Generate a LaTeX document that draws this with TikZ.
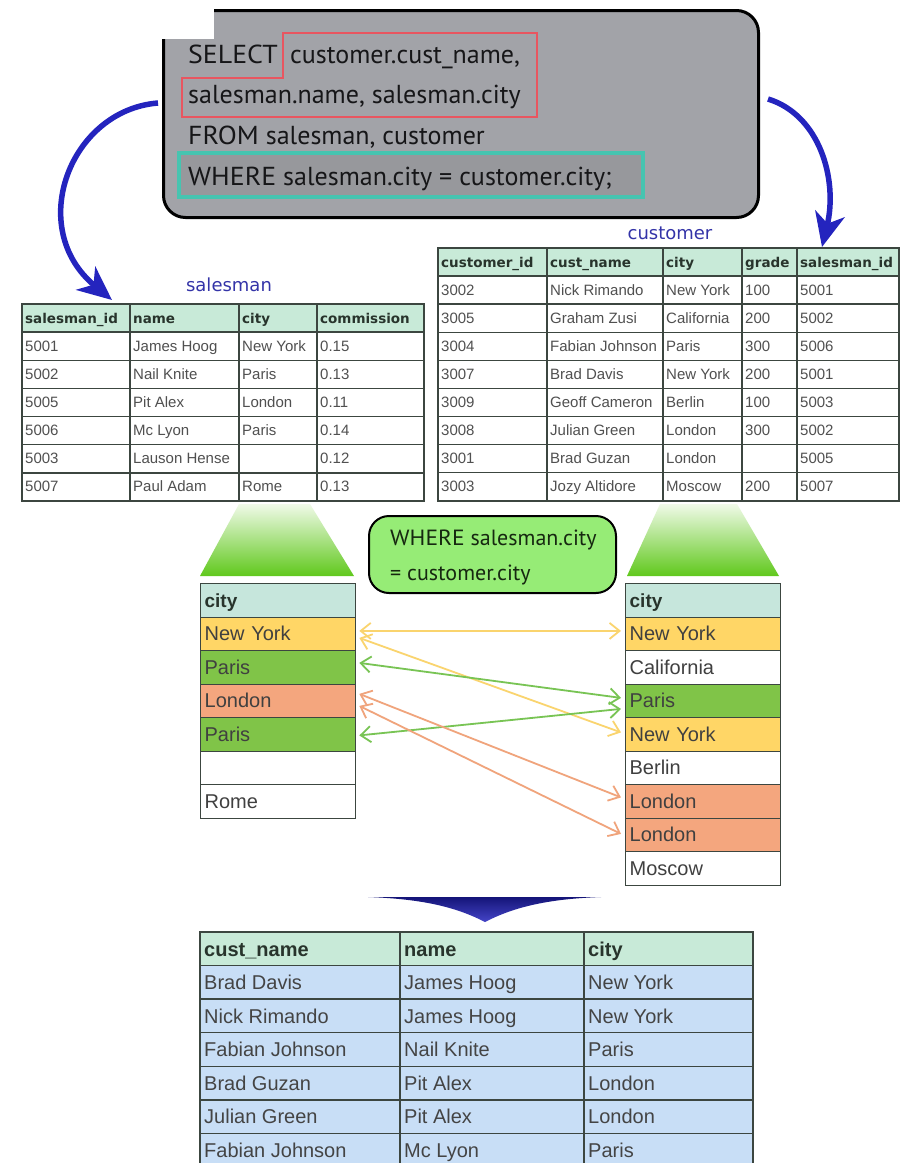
\documentclass[tikz,border=0pt]{standalone}
\usepackage{fontspec}
\setmainfont{Liberation Sans}
\newfontfamily\gillfont{PT Sans}
\newfontfamily\verdfont{DejaVu Sans}
\usetikzlibrary{arrows.meta}
\definecolor{sqlgray}{RGB}{162,163,168}
\definecolor{sqltxt}{RGB}{22,22,24}
\definecolor{redbox}{RGB}{232,86,96}
\definecolor{tealbox}{RGB}{70,196,176}
\definecolor{hdr}{RGB}{200,234,216}
\definecolor{cityhdr}{RGB}{198,230,220}
\definecolor{tline}{RGB}{60,70,64}
\definecolor{ttext}{RGB}{80,80,80}
\definecolor{htext}{RGB}{40,52,44}
\definecolor{lblue}{RGB}{52,52,168}
\definecolor{arrblue}{RGB}{36,36,190}
\definecolor{navy}{RGB}{20,20,120}
\definecolor{nyy}{RGB}{255,214,102}
\definecolor{pgreen}{RGB}{128,196,72}
\definecolor{lsal}{RGB}{244,166,126}
\definecolor{resblue}{RGB}{200,222,246}
\definecolor{wbox}{RGB}{150,236,118}
\definecolor{wtxt}{RGB}{22,40,16}
\definecolor{trapl}{RGB}{240,250,232}
\definecolor{trapg}{RGB}{96,200,28}
\definecolor{yarr}{RGB}{250,212,110}
\definecolor{garr}{RGB}{120,196,84}
\definecolor{sarr}{RGB}{240,164,124}
\newcommand{\kw}[1]{\scalebox{1.07}[1]{#1}}
\tikzset{
  sqltext/.style={anchor=base west, inner sep=0pt, text=sqltxt, font=\gillfont\fontsize{26}{30}\selectfont},
  wheretext/.style={anchor=base west, inner sep=0pt, text=wtxt, font=\gillfont\fontsize{22}{26}\selectfont},
  tabline/.style={draw=tline, line width=1.3pt},
  smhead/.style={anchor=base west, inner sep=0pt, text=htext, font=\verdfont\bfseries\fontsize{13.5}{15}\selectfont},
  smdata/.style={anchor=base west, inner sep=0pt, text=ttext, font=\fontsize{15}{17}\selectfont},
  reshead/.style={anchor=base west, inner sep=0pt, text=htext, font=\bfseries\fontsize{20}{22}\selectfont},
  resdata/.style={anchor=base west, inner sep=0pt, text=ttext!85!black, font=\fontsize{20}{22}\selectfont},
  tbllabel/.style={inner sep=0pt, text=lblue, font=\verdfont\fontsize{18}{20}\selectfont},
  citycell/.style={draw=tline, line width=1.3pt, anchor=north west, minimum width=155pt, minimum height=33.5pt,
     text width=147pt, inner xsep=4pt, inner ysep=0pt, align=left, text height=15pt, text depth=1pt,
     text=ttext!80!black, font=\fontsize{20}{22}\selectfont},
  cityhead/.style={citycell, fill=cityhdr, text=htext, font=\bfseries\fontsize{19}{22}\selectfont},
  blueflow/.style={draw=arrblue, line width=5.5pt, -{Stealth[length=34pt,width=30pt,inset=10pt]}},
  matcharrow/.style={line width=1.8pt, {Straight Barb[length=10pt,width=16pt]}-{Straight Barb[length=10pt,width=16pt]}},
}
\begin{document}
\begin{tikzpicture}[x=1pt,y=-1pt]
\useasboundingbox (0,0) rectangle (900,1163);
\clip (0,0) rectangle (900,1163);
\fill[white] (0,0) rectangle (900,1163);

% ---------- SQL box ----------
\node[draw=black, line width=3pt, fill=sqlgray, rounded corners=22pt, minimum width=595pt,
      minimum height=207pt, anchor=north west, inner sep=0pt] (sqlbox) at (162,9) {};
\fill[white] (150,-2) rectangle (214,39);
\draw[tealbox, line width=3.5pt, fill=sqlgray!93!black] (179,153) rectangle (643,197);
\draw[redbox, line width=2pt] (283,33) -- (537,33) -- (537,117) -- (182,117) -- (182,78) -- (283,78) -- cycle;
\node[sqltext] (sql1a) at (188,63) {\kw{SELECT}};
\node[sqltext] (sql1b) at (290,63) {customer.cust\_name,};
\node[sqltext] (sql2) at (188,103) {salesman.name, salesman.city};
\node[sqltext] (sql3) at (188,144) {\kw{FROM} salesman, customer};
\node[sqltext] (sql4) at (188,185) {\kw{WHERE} salesman.city = customer.city;};

% ---------- blue curved arrows ----------
\coordinate (la1) at (112,300);
\coordinate (ra1) at (822,247);
\draw[blueflow] ([xshift=-4pt,yshift=11pt]sqlbox.west) .. controls (70,110) and (25,228) .. (la1);
\draw[blueflow] ([xshift=8pt,yshift=15pt]sqlbox.east) .. controls (820,115) and (838,180) .. (ra1);

% ---------- table labels ----------
\node[tbllabel] (lblsm) at (229,285) {salesman};
\node[tbllabel] (lblcu) at (670,233) {customer};

% ---------- salesman table ----------
\fill[hdr] (22,304) rectangle (424,332);
\draw[tabline] (22,304) rectangle (424,501);
\foreach \x in {130,239,317} \draw[tabline] (\x,304) -- (\x,501);
\foreach \i in {0,...,5} \draw[tabline] (22,{332+28.17*\i}) -- (424,{332+28.17*\i});
\node[smhead] (smh1) at (25,323) {salesman\_id};
\node[smhead] (smh2) at (133,323) {name};
\node[smhead] (smh3) at (242,323) {city};
\node[smhead] (smh4) at (320,323) {commission};
\foreach \r/\a/\b/\c/\d in {0/5001/James Hoog/New York/0.15, 1/5002/Nail Knite/Paris/0.13,
   2/5005/Pit Alex/London/0.11, 3/5006/Mc Lyon/Paris/0.14, 4/5003/Lauson Hense//0.12, 5/5007/Paul Adam/Rome/0.13}{
  \pgfmathsetmacro\yb{351+28.17*\r}
  \node[smdata] (sm-\r-1) at (25,\yb) {\a};
  \node[smdata] (sm-\r-2) at (133,\yb) {\b};
  \node[smdata] (sm-\r-3) at (242,\yb) {\c};
  \node[smdata] (sm-\r-4) at (320,\yb) {\d};
}

% ---------- customer table ----------
\fill[hdr] (438,248) rectangle (899,276);
\draw[tabline] (438,248) rectangle (899,501);
\foreach \x in {547,663,742,797} \draw[tabline] (\x,248) -- (\x,501);
\foreach \i in {0,...,7} \draw[tabline] (438,{276+28.1*\i}) -- (899,{276+28.1*\i});
\node[smhead] (cuh1) at (441,267) {customer\_id};
\node[smhead] (cuh2) at (550,267) {cust\_name};
\node[smhead] (cuh3) at (666,267) {city};
\node[smhead] (cuh4) at (745,267) {grade};
\node[smhead] (cuh5) at (800,267) {salesman\_id};
\foreach \r/\a/\b/\c/\d/\e in {0/3002/Nick Rimando/New York/100/5001, 1/3005/Graham Zusi/California/200/5002,
   2/3004/Fabian Johnson/Paris/300/5006, 3/3007/Brad Davis/New York/200/5001,
   4/3009/Geoff Cameron/Berlin/100/5003, 5/3008/Julian Green/London/300/5002,
   6/3001/Brad Guzan/London//5005, 7/3003/Jozy Altidore/Moscow/200/5007}{
  \pgfmathsetmacro\yb{295+28.1*\r}
  \node[smdata] (cu-\r-1) at (441,\yb) {\a};
  \node[smdata] (cu-\r-2) at (550,\yb) {\b};
  \node[smdata] (cu-\r-3) at (666,\yb) {\c};
  \node[smdata] (cu-\r-4) at (745,\yb) {\d};
  \node[smdata] (cu-\r-5) at (800,\yb) {\e};
}

% ---------- green trapezoids ----------
\shade[top color=trapl, bottom color=trapg] (239,504) -- (310,504) -- (354,576) -- (200,576) -- cycle;
\shade[top color=trapl, bottom color=trapg] (660,504) -- (737,504) -- (779,576) -- (627,576) -- cycle;

% ---------- WHERE box ----------
\node[draw=black, line width=2pt, fill=wbox, rounded corners=20pt, minimum width=247pt,
      minimum height=77pt, anchor=north west, inner sep=0pt] (wherebox) at (368,515) {};
\node[wheretext] (wh1) at (390,545) {\kw{WHERE} salesman.city};
\node[wheretext] (wh2) at (390,580) {= customer.city};

% ---------- city columns ----------
\node[cityhead] (Lh) at (200,583) {city};
\node[citycell, fill=nyy]    (L1) at (200,616.5) {New York};
\node[citycell, fill=pgreen] (L2) at (200,650)   {Paris};
\node[citycell, fill=lsal]   (L3) at (200,683.5) {London};
\node[citycell, fill=pgreen] (L4) at (200,717)   {Paris};
\node[citycell, fill=white]  (L5) at (200,750.5) {};
\node[citycell, fill=white]  (L6) at (200,784)   {Rome};

\node[cityhead] (Rh) at (625,583) {city};
\node[citycell, fill=nyy]    (R1) at (625,616.5) {New York};
\node[citycell, fill=white]  (R2) at (625,650)   {California};
\node[citycell, fill=pgreen] (R3) at (625,683.5) {Paris};
\node[citycell, fill=nyy]    (R4) at (625,717)   {New York};
\node[citycell, fill=white]  (R5) at (625,750.5) {Berlin};
\node[citycell, fill=lsal]   (R6) at (625,784)   {London};
\node[citycell, fill=lsal]   (R7) at (625,817.5) {London};
\node[citycell, fill=white]  (R8) at (625,851)   {Moscow};

% ---------- matching arrows ----------
\draw[matcharrow, yarr] ([xshift=3pt,yshift=3pt]L1.east) -- ([xshift=-4pt,yshift=3pt]R1.west);
\draw[matcharrow, yarr] ([xshift=3pt,yshift=-4pt]L1.east) -- ([xshift=-4pt,yshift=2pt]R4.west);
\draw[matcharrow, garr] ([xshift=3pt,yshift=4.5pt]L2.east) -- ([xshift=-4pt,yshift=3pt]R3.west);
\draw[matcharrow, garr] ([xshift=3pt,yshift=-1pt]L4.east) -- ([xshift=-4pt,yshift=-8pt]R3.west);
\draw[matcharrow, sarr] ([xshift=3pt,yshift=7pt]L3.east) -- ([xshift=-4pt,yshift=4pt]R6.west);
\draw[matcharrow, sarr] ([xshift=3pt,yshift=-5pt]L3.east) -- ([xshift=-4pt,yshift=1pt]R7.west);

% ---------- blue chevron ----------
\shade[top color=navy, bottom color=arrblue!85!white] (368,897) .. controls (425,899) and (458,908) .. (485,922)
   .. controls (512,908) and (545,899) .. (601,897) -- (368,897) -- cycle;

% ---------- result table ----------
\fill[hdr] (200,932) rectangle (753,965.5);
\fill[resblue] (200,965.5) rectangle (753,1170);
\draw[tabline] (200,932) rectangle (753,1170);
\foreach \x in {400,584} \draw[tabline] (\x,932) -- (\x,1170);
\foreach \i in {0,...,6} \draw[tabline] (200,{965.5+33.6*\i}) -- (753,{965.5+33.6*\i});
\node[reshead] (rh1) at (204,956) {cust\_name};
\node[reshead] (rh2) at (404,956) {name};
\node[reshead] (rh3) at (588,956) {city};
\foreach \r/\a/\b/\c in {0/Brad Davis/James Hoog/New York, 1/Nick Rimando/James Hoog/New York,
   2/Fabian Johnson/Nail Knite/Paris, 3/Brad Guzan/Pit Alex/London,
   4/Julian Green/Pit Alex/London, 5/Fabian Johnson/Mc Lyon/Paris}{
  \pgfmathsetmacro\yb{989.5+33.6*\r}
  \node[resdata] (res-\r-1) at (204,\yb) {\a};
  \node[resdata] (res-\r-2) at (404,\yb) {\b};
  \node[resdata] (res-\r-3) at (588,\yb) {\c};
}
\end{tikzpicture}
\end{document}
